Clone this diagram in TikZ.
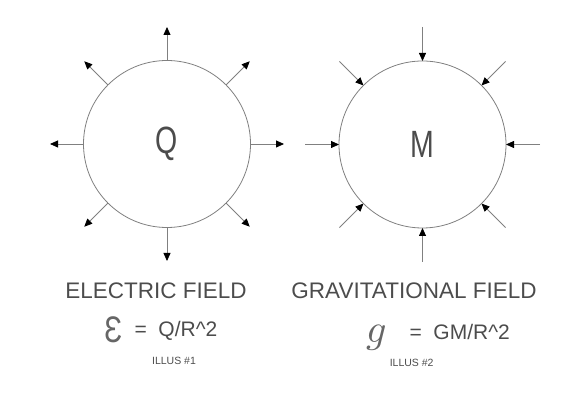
\documentclass[tikz,border=0pt]{standalone}
\usepackage{fontspec}
\setmainfont{Liberation Sans}
\usetikzlibrary{calc}
\usetikzlibrary{arrows.meta}

\begin{document}
\begin{tikzpicture}[x=1pt,y=1pt]
\useasboundingbox (0,0) rectangle (587,401);

\tikzset{
    ball/.style={draw=gray,line width=0.8pt,circle,minimum size=167pt,inner sep=0pt,outer sep=0pt,text=black!70,font=\fontsize{38}{38}\selectfont},
    fieldline/.style={draw=gray,line width=0.8pt,-{Triangle[length=8pt,width=7pt,black]}},
    caption/.style={text=black!70,anchor=base,font=\fontsize{22.5}{22.5}\selectfont},
    lawtext/.style={text=black!70,anchor=base west,font=\fontsize{21}{21}\selectfont},
    illus/.style={text=black!70,anchor=base,font=\fontsize{10.5}{10.5}\selectfont}
}

\coordinate (qc) at (167,257);
\coordinate (mc) at (422.5,256.5);

% field pointing away from the charge
\newcommand{\fieldout}[1]{
    \foreach \a in {0,45,...,315} {
        \coordinate (#1tip\a) at ($(#1.center)+(\a:117)$);
        \draw[fieldline] (#1.\a) -- (#1tip\a);
    }
}

% field pointing into the mass
\newcommand{\fieldin}[1]{
    \foreach \a in {0,45,...,315} {
        \coordinate (#1tail\a) at ($(#1.center)+(\a:117.5)$);
        \draw[fieldline] (#1tail\a) -- (#1.\a);
    }
}

\node[ball] (qball) at (qc) {\scalebox{0.75}[1]{Q}};
\node[ball] (mball) at (mc) {\scalebox{0.75}[1]{M}};

\fieldout{qball}
\fieldin{mball}

\node[caption] (etitle) at (156,102.7) {ELECTRIC FIELD};
\node[caption] (gtitle) at (414,102.7) {GRAVITATIONAL FIELD};

\node[text=black!60] (evar) at (113.3,71.5) {\scalebox{0.8}[1]{\fontsize{37}{37}\selectfont Ɛ}};
\node[lawtext] (elaw) at (131,64.3) {=\ \ Q/R\textasciicircum 2};
\node[text=black!60] (gvar) at (376.5,63.5) {\scalebox{4}{$g$}};
\node[lawtext] (glaw) at (406,61.7) {=\ \ GM/R\textasciicircum 2};

\node[illus] (eillus) at (174,36) {ILLUS \#1};
\node[illus] (gillus) at (411.7,34.3) {ILLUS \#2};
\end{tikzpicture}
\end{document}
